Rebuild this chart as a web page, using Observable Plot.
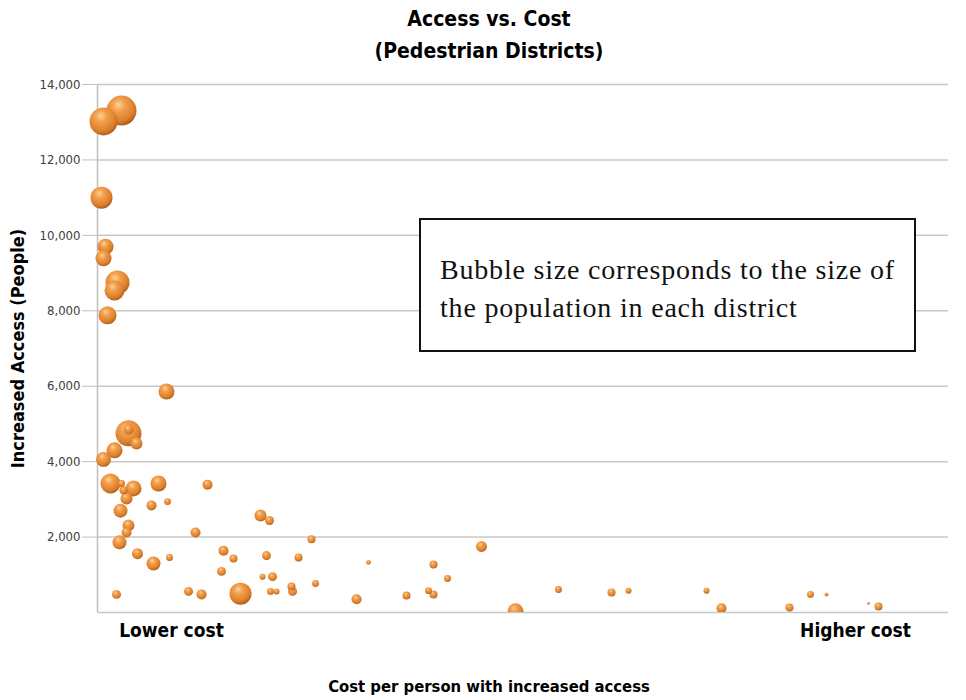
<!DOCTYPE html>
<html>
<head>
<meta charset="utf-8">
<script src="https://cdn.jsdelivr.net/npm/d3@7"></script>
<script src="https://cdn.jsdelivr.net/npm/@observablehq/plot@0.6"></script>
<style>
  html, body { margin: 0; padding: 0; background: #fff; }
  #wrap { position: relative; width: 966px; height: 700px; background: #fff; overflow: hidden; }
  .bold { font-family: "Liberation Sans Narrow", "DejaVu Sans Condensed", "Roboto", sans-serif; font-weight: bold; color: #000; }
  #title { position: absolute; left: 0; top: 3px; width: 978px; text-align: center; font-size: 21px; line-height: 32px; }
  #xtitle { position: absolute; left: 0; top: 677px; width: 978px; text-align: center; font-size: 16.5px; }
  #chart { position: absolute; left: 0; top: 70px; }
  #note { position: absolute; left: 419px; top: 218px; width: 497px; height: 134px; box-sizing: border-box;
          border: 2px solid #111; background: #fff; font-family: "Liberation Serif", "DejaVu Serif", serif;
          font-size: 28px; letter-spacing: 0.8px; line-height: 38px; color: #111; padding: 31px 0 0 19px; white-space: nowrap; }
  #chart svg text { font-family: "Liberation Sans Narrow", "DejaVu Sans Condensed", sans-serif; }
  g[aria-label="y-axis tick label"] text { font-size: 13px; fill: #404040; }
  g[aria-label="y-axis label"] text { font-size: 18px; font-weight: bold; fill: #000; }
  g[aria-label="x-axis tick label"] text { font-size: 19px; font-weight: bold; fill: #000; }
</style>
</head>
<body>
<div id="wrap">
  <div id="title" class="bold">Access vs. Cost<br>(Pedestrian Districts)</div>
  <div id="chart"></div>
  <div id="note">Bubble size corresponds to the size of<br>the population in each district</div>
  <div id="xtitle" class="bold">Cost per person with increased access</div>
</div>
<script>
// Cost per person (relative units, unlabeled axis)
const cost = [24, 6, 4, 8, 6, 20, 17, 10, 69, 31, 31, 39, 17, 6, 13, 24, 36, 61, 110, 26,
  29, 23, 54, 70, 31, 29, 22, 98, 40, 56, 72, 126, 136, 124, 19, 91, 104, 143, 163, 172,
  214, 169, 201, 271, 336, 384, 165, 175, 350, 173, 179, 194, 195, 218, 259, 309, 331, 336, 418, 461,
  514, 531, 609, 624, 692, 713, 729, 771, 781];
// Increased access (people)
const access = [13310, 13020, 11000, 9700, 9390, 8750, 8540, 7880, 5860, 4750, 4850, 4480, 4300, 4060, 3420, 3420, 3290, 3420, 3390, 3240,
  3020, 2700, 2840, 2940, 2310, 2120, 1860, 2120, 1560, 1300, 1460, 1640, 1430, 1090, 480, 560, 480, 500, 2570, 2440,
  1940, 1510, 1460, 1330, 1270, 1750, 950, 950, 900, 560, 560, 690, 560, 770, 350, 450, 580, 480, 30, 610,
  530, 580, 580, 110, 130, 480, 480, 240, 160];
// Population of each district (bubble size)
const population = [22500, 19600, 12100, 6400, 6400, 14400, 10000, 8100, 6400, 16900, 2500, 3600, 6400, 5600, 10000, 1200, 6400, 6400, 2500, 1600,
  3600, 4900, 2500, 1200, 3600, 2500, 4900, 2500, 3000, 4900, 1200, 2500, 1600, 2000, 2000, 2000, 2500, 12100, 3600, 2000,
  1600, 2000, 1600, 600, 1600, 3000, 900, 2000, 1200, 1200, 900, 1600, 2000, 1200, 2500, 1600, 1200, 1600, 6400, 1200,
  1600, 900, 900, 2500, 1600, 1200, 400, 200, 1600];

const yTicks = [2000, 4000, 6000, 8000, 10000, 12000, 14000];
const gridValues = [0, 2000, 4000, 6000, 8000, 10000, 12000, 14000];
const xTickLabels = ["Lower cost", "Higher cost"];
const xTickPos = [74, 758];

const data = cost.map((c, i) => ({cost: c, access: access[i], pop: population[i]}));

const chart = Plot.plot({
  width: 966,
  height: 580,
  marginLeft: 97,
  marginRight: 18,
  marginTop: 14,
  marginBottom: 38,
  x: {domain: [0, 851]},
  y: {domain: [0, 14000]},
  r: {domain: [0, 22500], range: [0, 15]},
  marks: [
    Plot.ruleY(gridValues, {stroke: "#c8c8c8", strokeWidth: 1.5}),
    Plot.ruleX([0], {stroke: "#c0c0c0", strokeWidth: 1.5}),
    Plot.axisY(yTicks, {tickSize: 15, tickPadding: 2, tickFormat: d3.format(","), stroke: "#c0c0c0",
      label: "Increased Access (People)", labelAnchor: "center", labelArrow: "none", labelOffset: 86}),
    Plot.axisX(xTickPos, {tickSize: 0, tickPadding: 11, tickFormat: (d, i) => xTickLabels[i], label: null}),
    Plot.dot(data.filter(d => d.access >= 300), {x: "cost", y: "access", r: "pop", fill: "url(#ball)", stroke: "none"}),
    Plot.dot(data.filter(d => d.access < 300), {x: "cost", y: "access", r: "pop", fill: "url(#ball)", stroke: "none", clip: true})
  ]
});

const defs = d3.select(chart).insert("defs", ":first-child");
const g = defs.append("radialGradient").attr("id", "ball").attr("cx", "42%").attr("cy", "35%").attr("r", "68%").attr("fx", "40%").attr("fy", "30%");
g.append("stop").attr("offset", "0%").attr("stop-color", "#fdd29a");
g.append("stop").attr("offset", "30%").attr("stop-color", "#f3a04e");
g.append("stop").attr("offset", "75%").attr("stop-color", "#dc7f2c");
g.append("stop").attr("offset", "100%").attr("stop-color", "#a7591a");

document.getElementById("chart").appendChild(chart);
</script>
</body>
</html>
